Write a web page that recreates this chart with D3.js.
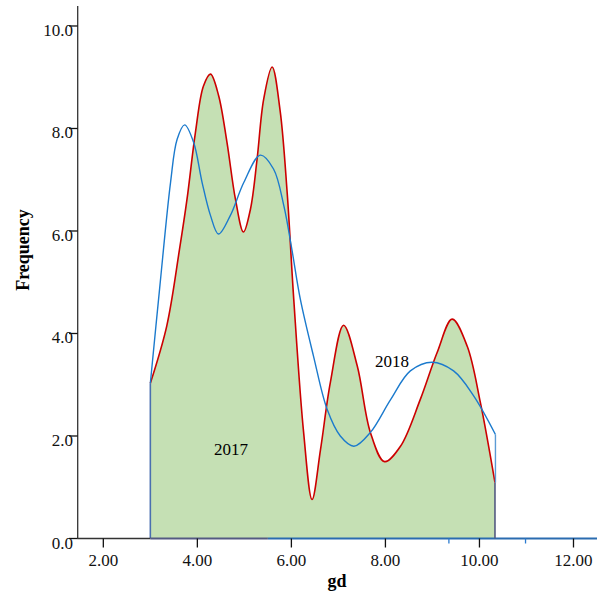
<!DOCTYPE html>
<html>
<head>
<meta charset="utf-8">
<script src="https://cdn.jsdelivr.net/npm/d3@7"></script>
<style>
  body { margin: 0; background: #fff; }
  svg { display: block; font-family: "Liberation Serif", "Times New Roman", serif; }
</style>
</head>
<body>
<svg class="chart" width="597" height="592"></svg>
<script>
const WIDTH = 597;
const HEIGHT = 592;

// 2017 curve (filled)
const gd2017 = [3.0, 3.35, 3.62, 3.78, 3.96, 4.13, 4.28, 4.45, 4.63, 4.81, 4.98, 5.13, 5.27, 5.41, 5.59, 5.76, 5.91, 6.05, 6.26, 6.44, 6.62, 6.83, 7.11, 7.40, 7.68, 7.98, 8.32, 8.74, 9.10, 9.42, 9.74, 10.02, 10.33];
const freq2017 = [3.03, 4.15, 5.64, 6.62, 7.93, 8.83, 9.06, 8.65, 7.73, 6.62, 5.98, 6.43, 7.40, 8.57, 9.20, 8.35, 6.75, 4.67, 2.07, 0.76, 1.74, 3.05, 4.16, 3.37, 2.07, 1.50, 1.80, 2.71, 3.63, 4.28, 3.75, 2.65, 1.09];

// 2018 curve (line only)
const gd2018 = [3.0, 3.2, 3.43, 3.57, 3.73, 3.92, 4.10, 4.28, 4.45, 4.70, 4.99, 5.34, 5.62, 5.84, 6.01, 6.19, 6.47, 6.76, 7.04, 7.33, 7.68, 8.11, 8.53, 8.99, 9.45, 9.88, 10.34];
const freq2018 = [3.03, 4.9, 6.95, 7.79, 8.07, 7.73, 6.95, 6.30, 5.94, 6.30, 6.95, 7.48, 7.21, 6.49, 5.64, 4.67, 3.56, 2.52, 2.00, 1.80, 2.07, 2.71, 3.27, 3.44, 3.27, 2.78, 2.03];

const xTicks = [2, 4, 6, 8, 10, 12];
const yTicks = [0, 2, 4, 6, 8, 10];
const extraXTicks = [9.35, 10.98];

const x = d3.scaleLinear().domain([1.455, 12.5]).range([77.7, 597]);
const y = d3.scaleLinear().domain([0, 10.39]).range([538.5, 6]);

const svg = d3.select('.chart');

const pts17 = gd2017.map((d, i) => [d, freq2017[i]]);
const pts18 = gd2018.map((d, i) => [d, freq2018[i]]);

const smooth = d3.curveCatmullRom.alpha(0.5);

// green area under 2017
const area = d3.area()
  .x((d) => x(d[0]))
  .y0(y(0))
  .y1((d) => y(d[1]))
  .curve(smooth);

svg.append('path')
  .datum(pts17)
  .attr('d', area)
  .style('fill', '#c5e0b4');

// baseline strokes of the fills
svg.append('line')
  .attr('x1', x(5.5)).attr('x2', WIDTH)
  .attr('y1', y(0)).attr('y2', y(0))
  .style('stroke', '#2b6cb0')
  .style('stroke-width', 2);

const line = d3.line()
  .x((d) => x(d[0]))
  .y((d) => y(d[1]))
  .curve(smooth);

svg.append('path')
  .datum(pts17)
  .attr('d', line)
  .style('fill', 'none')
  .style('stroke', '#cc0000')
  .style('stroke-width', 1.6);

svg.append('path')
  .datum(pts18)
  .attr('d', line)
  .style('fill', 'none')
  .style('stroke', '#1b7acd')
  .style('stroke-width', 1.4);

// vertical edges
svg.append('line')
  .attr('x1', x(3.0)).attr('x2', x(3.0))
  .attr('y1', y(freq2018[0])).attr('y2', y(0))
  .style('stroke', '#4a6fb0')
  .style('stroke-width', 1.6);

svg.append('line')
  .attr('x1', x(gd2018[gd2018.length - 1])).attr('x2', x(gd2018[gd2018.length - 1]))
  .attr('y1', y(freq2018[freq2018.length - 1])).attr('y2', y(freq2017[freq2017.length - 1]))
  .style('stroke', '#5b9bd5')
  .style('stroke-width', 1.4);

svg.append('line')
  .attr('x1', x(gd2017[gd2017.length - 1])).attr('x2', x(gd2017[gd2017.length - 1]))
  .attr('y1', y(freq2017[freq2017.length - 1])).attr('y2', y(0))
  .style('stroke', '#545a82')
  .style('stroke-width', 1.6);

// axes
svg.append('line')
  .attr('x1', 77.7).attr('x2', 77.7)
  .attr('y1', 6).attr('y2', y(0))
  .style('stroke', '#333')
  .style('stroke-width', 1.3);

svg.append('line')
  .attr('x1', 77.7).attr('x2', x(3.0))
  .attr('y1', y(0)).attr('y2', y(0))
  .style('stroke', '#333')
  .style('stroke-width', 1.5);

svg.append('line')
  .attr('x1', x(3.0)).attr('x2', x(5.5))
  .attr('y1', y(0)).attr('y2', y(0))
  .style('stroke', '#545a82')
  .style('stroke-width', 2);

const yAxis = svg.append('g');
yAxis.selectAll('line').data(yTicks).enter().append('line')
  .attr('x1', 69).attr('x2', 77.7)
  .attr('y1', (d) => y(d)).attr('y2', (d) => y(d))
  .style('stroke', '#111')
  .style('stroke-width', 1.3);
yAxis.selectAll('text').data(yTicks).enter().append('text')
  .attr('x', 73)
  .attr('y', (d) => y(d) + 10)
  .attr('text-anchor', 'end')
  .style('font-size', '17px')
  .style('fill', '#111')
  .text((d) => d.toFixed(1));

const xAxis = svg.append('g');
xAxis.selectAll('line').data(xTicks).enter().append('line')
  .attr('x1', (d) => x(d)).attr('x2', (d) => x(d))
  .attr('y1', y(0)).attr('y2', y(0) + 9)
  .style('stroke', '#111')
  .style('stroke-width', 1.3);
xAxis.selectAll('text').data(xTicks).enter().append('text')
  .attr('x', (d) => x(d))
  .attr('y', 566)
  .attr('text-anchor', 'middle')
  .style('font-size', '17px')
  .style('fill', '#111')
  .text((d) => d.toFixed(2));

svg.selectAll('.bt').data(extraXTicks).enter().append('line')
  .attr('x1', (d) => x(d)).attr('x2', (d) => x(d))
  .attr('y1', y(0)).attr('y2', y(0) + 5)
  .style('stroke', '#2b7bd0')
  .style('stroke-width', 1.3);

// titles
svg.append('text')
  .attr('transform', 'translate(29,250) rotate(-90)')
  .attr('text-anchor', 'middle')
  .style('font-size', '18px')
  .style('font-weight', 'bold')
  .text('Frequency');

svg.append('text')
  .attr('x', 337).attr('y', 587)
  .attr('text-anchor', 'middle')
  .style('font-size', '18px')
  .style('font-weight', 'bold')
  .text('gd');

svg.append('text')
  .attr('x', 231).attr('y', 455)
  .attr('text-anchor', 'middle')
  .style('font-size', '17px')
  .text('2017');

svg.append('text')
  .attr('x', 392).attr('y', 367)
  .attr('text-anchor', 'middle')
  .style('font-size', '17px')
  .text('2018');
</script>
</body>
</html>
